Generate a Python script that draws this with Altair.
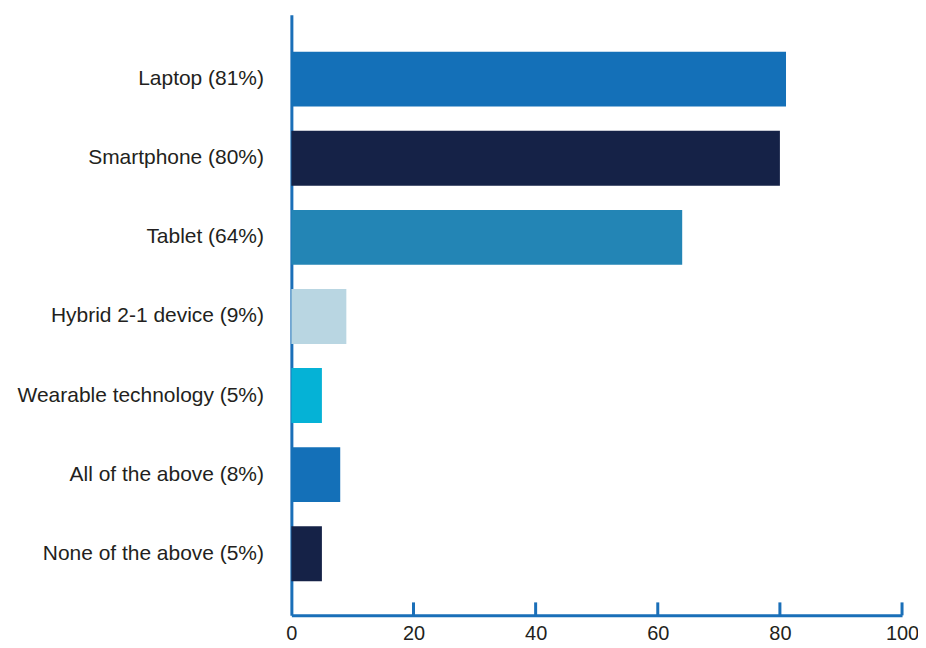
import altair as alt
import pandas as pd

categories = [
    "Laptop (81%)",
    "Smartphone (80%)",
    "Tablet (64%)",
    "Hybrid 2-1 device (9%)",
    "Wearable technology (5%)",
    "All of the above (8%)",
    "None of the above (5%)",
]
values = [81, 80, 64, 9, 5, 8, 5]
colors = ["#1470b8", "#152247", "#2385b5", "#b9d6e2", "#05b2d6", "#1470b8", "#152247"]
x_ticks = [0, 20, 40, 60, 80, 100]

df = pd.DataFrame({"category": categories, "value": values, "color": colors})
ticks_df = pd.DataFrame({"tick": x_ticks[1:]})

AXIS_COLOR = "#1a6fb8"
TEXT_COLOR = "#231f20"
FONT = "Liberation Sans"
W, H = 612, 602
TICK_LEN = 13

x_scale = alt.Scale(domain=[0, 100], nice=False)

bars = alt.Chart(df).mark_bar().encode(
    x=alt.X(
        "value:Q",
        scale=x_scale,
        axis=alt.Axis(
            title=None,
            values=x_ticks,
            ticks=False,
            grid=False,
            domainColor=AXIS_COLOR,
            domainWidth=3,
            labelFont=FONT,
            labelFontSize=20,
            labelColor=TEXT_COLOR,
            labelPadding=8,
            labelFlush=False,
        ),
    ),
    y=alt.Y(
        "category:N",
        sort=categories,
        scale=alt.Scale(paddingInner=0.306, paddingOuter=0.45, align=0.52),
        axis=alt.Axis(
            title=None,
            ticks=False,
            grid=False,
            domainColor=AXIS_COLOR,
            domainWidth=3,
            labelFont=FONT,
            labelFontSize=21,
            labelColor=TEXT_COLOR,
            labelPadding=28,
            labelLimit=400,
        ),
    ),
    color=alt.Color("color:N", scale=None, legend=None),
)

tick_marks = alt.Chart(ticks_df).mark_rule(color=AXIS_COLOR, strokeWidth=3).encode(
    x=alt.X("tick:Q", scale=x_scale),
    y=alt.value(H - TICK_LEN),
    y2=alt.value(H),
)

chart = (
    alt.layer(bars, tick_marks)
    .properties(
        width=W,
        height=H,
        autosize=alt.AutoSizeParams(type="none"),
        padding={"left": 284, "top": 6, "right": 16, "bottom": 32},
        view=alt.ViewBackground(stroke="transparent", strokeWidth=0),
    )
    .configure_view(stroke="transparent", strokeWidth=0)
    .configure_axis(grid=False)
    .configure(background="white")
)

chart.save("out.html", embed_options={"renderer": "svg", "actions": False})
